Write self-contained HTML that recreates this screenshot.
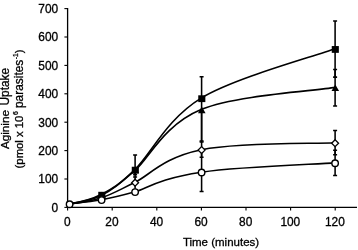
<!DOCTYPE html>
<html><head><meta charset="utf-8"><title>chart</title>
<style>html,body{margin:0;padding:0;background:#fff;overflow:hidden}body{width:358px;height:250px;position:relative}</style>
</head><body>
<svg width="358" height="250" viewBox="0 0 358 250" style="position:absolute;left:0;top:0">
<rect width="358" height="250" fill="#fff"/>
<g stroke="#000" stroke-width="1.3" fill="none">
<path d="M67.6,8.0 V207.4 H357"/>
</g>
<g stroke="#000" stroke-width="1.1" fill="none">
<path d="M64.4,207.40 H67.6"/>
<path d="M64.4,179.00 H67.6"/>
<path d="M64.4,150.60 H67.6"/>
<path d="M64.4,122.20 H67.6"/>
<path d="M64.4,93.80 H67.6"/>
<path d="M64.4,65.40 H67.6"/>
<path d="M64.4,37.00 H67.6"/>
<path d="M64.4,8.60 H67.6"/>
<path d="M67.60,207.4 V210.5"/>
<path d="M112.20,207.4 V210.5"/>
<path d="M156.80,207.4 V210.5"/>
<path d="M201.40,207.4 V210.5"/>
<path d="M246.00,207.4 V210.5"/>
<path d="M290.60,207.4 V210.5"/>
<path d="M335.20,207.4 V210.5"/>
</g>
<g stroke="#000" stroke-width="1.55" fill="none">
<path d="M335.10,20.90 V77.10 M333.10,20.90 h4.00 M333.10,77.10 h4.00"/>
<path d="M335.10,69.40 V105.90 M333.10,69.40 h4.00 M333.10,105.90 h4.00"/>
<path d="M335.10,130.40 V154.80 M333.10,130.40 h4.00 M333.10,154.80 h4.00"/>
<path d="M335.10,150.30 V175.40 M333.10,150.30 h4.00 M333.10,175.40 h4.00"/>
<path d="M201.60,76.80 V141.00 M199.60,76.80 h4.00 M199.60,141.00 h4.00"/>
<path d="M201.60,110.00 V142.00 M199.60,142.00 h4.00"/>
<path d="M201.60,142.00 V157.20 M199.60,157.20 h4.00"/>
<path d="M201.60,153.50 V191.40 M199.60,191.40 h4.00"/>
<path d="M135.10,155.00 V176.90 M133.10,155.00 h4.00 M133.10,176.90 h4.00"/>
<path d="M135.10,168.00 V174.60 M133.10,174.60 h4.00"/>
<path d="M135.10,176.90 V192.00"/>
</g>
<g stroke="#000" stroke-width="1.60" fill="none" stroke-linejoin="round">
<path d="M69.60,203.90 C80.60,202.20 90.68,200.07 101.60,194.30 C112.52,188.53 118.43,185.37 135.10,169.30 C150.93,154.04 166.60,119.01 201.60,97.90 C234.93,77.80 312.85,56.90 335.10,48.70"/>
<path d="M69.60,203.90 C80.60,202.30 90.68,200.88 101.60,195.30 C112.52,189.72 118.43,184.73 135.10,170.40 C149.27,158.22 163.27,125.21 201.60,109.30 C234.93,95.47 312.85,91.05 335.10,87.40"/>
<path d="M69.60,203.90 C80.60,202.60 90.68,201.30 101.60,197.70 C112.52,194.10 118.43,190.30 135.10,182.30 C149.27,175.50 163.27,157.27 201.60,149.70 C239.93,142.13 312.85,143.95 335.10,142.80"/>
<path d="M69.60,203.90 C80.60,202.70 90.68,201.82 101.60,199.80 C112.52,197.78 118.43,196.40 135.10,191.80 C146.77,188.58 158.27,178.46 201.60,172.20 C239.93,166.66 312.85,164.45 335.10,162.90"/>
</g>
<path d="M101.60,194.65 L105.05,198.10 L101.60,201.55 L98.15,198.10 Z" fill="#fff" stroke="#000" stroke-width="1.3"/>
<path d="M135.10,179.25 L138.55,182.70 L135.10,186.15 L131.65,182.70 Z" fill="#fff" stroke="#000" stroke-width="1.3"/>
<path d="M201.60,146.65 L205.05,150.10 L201.60,153.55 L198.15,150.10 Z" fill="#fff" stroke="#000" stroke-width="1.3"/>
<path d="M335.10,139.75 L338.55,143.20 L335.10,146.65 L331.65,143.20 Z" fill="#fff" stroke="#000" stroke-width="1.3"/>
<path d="M101.80,191.70 L105.60,198.40 L98.00,198.40 Z" fill="#000"/>
<path d="M135.30,166.60 L139.10,173.30 L131.50,173.30 Z" fill="#000"/>
<path d="M201.80,106.60 L205.60,113.30 L198.00,113.30 Z" fill="#000"/>
<path d="M335.30,84.40 L339.10,91.10 L331.50,91.10 Z" fill="#000"/>
<rect x="98.25" y="191.80" width="7.10" height="6.80" fill="#000"/>
<rect x="131.75" y="166.75" width="7.10" height="6.80" fill="#000"/>
<rect x="198.25" y="95.30" width="7.10" height="6.80" fill="#000"/>
<rect x="331.75" y="46.05" width="7.10" height="6.80" fill="#000"/>
<circle cx="69.60" cy="204.30" r="3.25" fill="#fff" stroke="#000" stroke-width="1.4"/>
<circle cx="101.60" cy="200.10" r="3.25" fill="#fff" stroke="#000" stroke-width="1.4"/>
<circle cx="135.10" cy="192.10" r="3.25" fill="#fff" stroke="#000" stroke-width="1.4"/>
<circle cx="201.60" cy="172.50" r="3.25" fill="#fff" stroke="#000" stroke-width="1.4"/>
<circle cx="335.10" cy="163.20" r="3.25" fill="#fff" stroke="#000" stroke-width="1.4"/>
<g font-family="Liberation Sans, Arial, sans-serif" font-size="11.9" fill="#000" stroke="#000" stroke-width="0.3">
<text x="58.2" y="211.70" text-anchor="end">0</text>
<text x="58.2" y="183.30" text-anchor="end">100</text>
<text x="58.2" y="154.90" text-anchor="end">200</text>
<text x="58.2" y="126.50" text-anchor="end">300</text>
<text x="58.2" y="98.10" text-anchor="end">400</text>
<text x="58.2" y="69.70" text-anchor="end">500</text>
<text x="58.2" y="41.30" text-anchor="end">600</text>
<text x="58.2" y="12.90" text-anchor="end">700</text>
<text x="67.30" y="226.1" text-anchor="middle">0</text>
<text x="111.90" y="226.1" text-anchor="middle">20</text>
<text x="156.50" y="226.1" text-anchor="middle">40</text>
<text x="201.10" y="226.1" text-anchor="middle">60</text>
<text x="245.70" y="226.1" text-anchor="middle">80</text>
<text x="290.30" y="226.1" text-anchor="middle">100</text>
<text x="334.90" y="226.1" text-anchor="middle">120</text>
<text x="221" y="245.7" text-anchor="middle" font-size="11.5">Time (minutes)</text>
<text transform="translate(9,149.1) rotate(-90)" font-size="11.7">Aginine</text>
<text transform="translate(9,105.5) rotate(-90)" font-size="11.9">Uptake</text>
<text transform="translate(23,168.4) rotate(-90)" font-size="11.3">(pmol x 10</text>
<text transform="translate(18.3,114.9) rotate(-90)" font-size="6.8">6</text>
<text transform="translate(23,108.0) rotate(-90)" font-size="11.9">parasites</text>
<text transform="translate(18.4,59.2) rotate(-90)" font-size="6.8">-1</text>
<text transform="translate(23,53.3) rotate(-90)" font-size="11.5">)</text>
</g>
</svg>
</body></html>
